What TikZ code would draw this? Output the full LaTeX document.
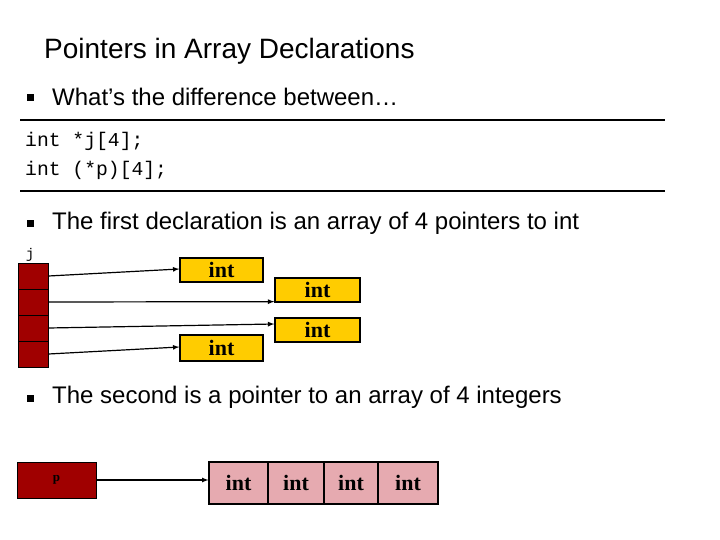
\documentclass[tikz,border=0pt]{standalone}
\usepackage{fontspec}
\setmainfont{Liberation Sans}
\newfontfamily\ser{Liberation Serif}
\newfontfamily\mono{Liberation Mono}
\definecolor{dred}{RGB}{160,0,0}
\definecolor{gold}{RGB}{255,204,0}
\definecolor{pinkc}{RGB}{230,170,176}
\begin{document}
\begin{tikzpicture}[x=1pt,y=-1pt,
  cell/.style={draw=black,fill=dred,line width=1pt},
  ibox/.style={draw=black,fill=gold,line width=1.3pt,font=\ser\bfseries\fontsize{22}{22}\selectfont},
  pbox/.style={draw=black,fill=pinkc,line width=1.2pt,font=\ser\bfseries\fontsize{22}{22}\selectfont},
  arr/.style={-latex,line width=1.2pt},
  txt/.style={anchor=west,inner sep=0pt,font=\fontsize{24}{24}\selectfont},
  bul/.style={fill=black,inner sep=0pt,minimum size=7pt}]
\useasboundingbox (0,0) rectangle (720,540);
\node[anchor=west,inner sep=0pt,font=\fontsize{28}{28}\selectfont] (title) at (44,51) {Pointers in Array Declarations};
\node[bul] (b1) at (30,98) {};
\node[txt] (t1) at (52,97) {What’s the difference between…};
\draw[line width=1.2pt] (20,120) coordinate (r1a) -- (665,120) coordinate (r1b);
\node[anchor=west,inner sep=0pt,font=\mono\fontsize{19.7}{19.7}\selectfont] (c1) at (25,141) {int *j[4];};
\node[anchor=west,inner sep=0pt,font=\mono\fontsize{19.7}{19.7}\selectfont] (c2) at (25,170) {int (*p)[4];};
\draw[line width=1.2pt] (20,191) coordinate (r2a) -- (665,191) coordinate (r2b);
\node[bul] (b2) at (30,224) {};
\node[txt] (t2) at (52,223) {The first declaration is an array of 4 pointers to int};
\node[font=\mono\fontsize{14}{14}\selectfont,inner sep=0pt] (jl) at (30,255) {j};
\foreach \i in {0,1,2,3}{
  \node[cell,minimum width=30pt,minimum height=26pt,inner sep=0pt] (j\i) at (33,{276+\i*26}) {};
}
\node[ibox,minimum width=83pt,minimum height=24pt,inner sep=0pt] (i1) at (221.5,270) {int};
\node[ibox,minimum width=85pt,minimum height=24pt,inner sep=0pt] (i2) at (317.5,290) {int};
\node[ibox,minimum width=85pt,minimum height=24pt,inner sep=0pt] (i3) at (317.5,330) {int};
\node[ibox,minimum width=83pt,minimum height=26pt,inner sep=0pt] (i4) at (221.5,348) {int};
\draw[arr] (j0.east) -- ([yshift=1pt]i1.west);
\draw[arr] (j1.east) -- ([yshift=1pt]i2.south west);
\draw[arr] (j2.east) -- ([yshift=6pt]i3.west);
\draw[arr] (j3.east) -- ([yshift=1pt]i4.west);
\node[bul] (b3) at (30,398) {};
\node[txt] (t3) at (52,397) {The second is a pointer to an array of 4 integers};
\node[cell,minimum width=79pt,minimum height=36pt,inner sep=0pt,font=\ser\bfseries\fontsize{13}{13}\selectfont] (p) at (56.5,480) {p};
\node[pbox,minimum width=59pt,minimum height=42pt,inner sep=0pt] (a0) at (238.5,483) {int};
\node[pbox,minimum width=56pt,minimum height=42pt,inner sep=0pt] (a1) at (296,483) {int};
\node[pbox,minimum width=54pt,minimum height=42pt,inner sep=0pt] (a2) at (351,483) {int};
\node[pbox,minimum width=60pt,minimum height=42pt,inner sep=0pt] (a3) at (408,483) {int};
\draw[arr] (p.east) -- ([yshift=3pt]a0.west);
\end{tikzpicture}
\end{document}
